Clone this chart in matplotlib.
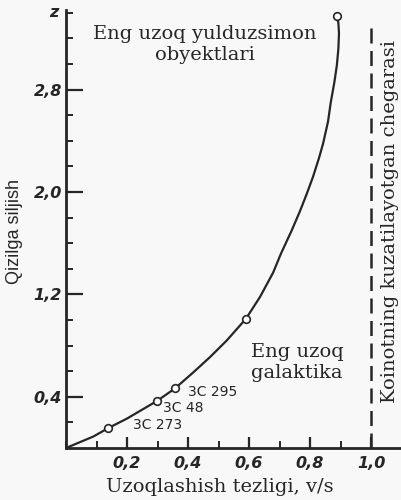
import numpy as np
import matplotlib.pyplot as plt
from matplotlib.ticker import MultipleLocator, FixedLocator

# curve: v/c vs redshift z
beta = [0.0, 0.045, 0.09, 0.138, 0.2, 0.25, 0.298, 0.357, 0.417, 0.472, 0.527,
        0.59, 0.636, 0.679, 0.705, 0.74, 0.767, 0.79, 0.81, 0.83, 0.843, 0.859,
        0.868, 0.88, 0.888, 0.893, 0.895, 0.893, 0.888]
zval = [0.0, 0.045, 0.09, 0.155, 0.23, 0.30, 0.367, 0.465, 0.59, 0.71, 0.84,
        1.01, 1.18, 1.37, 1.52, 1.70, 1.85, 1.99, 2.12, 2.27, 2.38, 2.55,
        2.70, 2.86, 2.99, 3.12, 3.24, 3.32, 3.375]

# marked objects
obj_names = ["3C 273", "3C 48", "3C 295", "", ""]
obj_beta = [0.138, 0.298, 0.357, 0.59, 0.888]
obj_z = [0.155, 0.367, 0.465, 1.01, 3.375]
# where the object names sit
name_x = [0.22, 0.318, 0.40]
name_y = [0.18, 0.31, 0.44]

xticks_major = [0.2, 0.4, 0.6, 0.8, 1.0]
xtick_labels = ["0,2", "0,4", "0,6", "0,8", "1,0"]
yticks_major = [0.4, 1.2, 2.0, 2.8]
ytick_labels = ["0,4", "1,2", "2,0", "2,8"]

ink = "#262626"
serif = "DejaVu Serif"

fig = plt.figure(figsize=(4.01, 5.0), dpi=100)
fig.patch.set_facecolor("#f8f8f8")
ax = fig.add_axes([0.1646, 0.104, 0.8367, 0.8755])
ax.set_facecolor("#f8f8f8")
ax.set_xlim(0, 1.1)
ax.set_ylim(0, 3.42)

ax.plot(beta, zval, color=ink, lw=1.6, solid_capstyle="round", solid_joinstyle="round")
ax.plot(obj_beta, obj_z, "o", ms=5.5, mfc="white", mec=ink, mew=1.2)

# limit of the observable universe
ax.axvline(1.0, ymin=0.0, ymax=0.975, color=ink, lw=1.8, dashes=(6, 3))

for spine in ["top", "right"]:
    ax.spines[spine].set_visible(False)
for spine in ["left", "bottom"]:
    ax.spines[spine].set_linewidth(2.0)
    ax.spines[spine].set_color(ink)

ax.xaxis.set_major_locator(FixedLocator(xticks_major))
ax.xaxis.set_minor_locator(MultipleLocator(0.1))
ax.set_xticklabels(xtick_labels)
ax.yaxis.set_major_locator(FixedLocator(yticks_major))
ax.yaxis.set_minor_locator(FixedLocator([0.2, 0.6, 0.8, 1.0, 1.4, 1.6, 1.8, 2.2,
                                         2.4, 2.6, 3.0, 3.2, 3.4]))
ax.set_yticklabels(ytick_labels)
ax.tick_params(which="major", direction="in", color=ink, width=1.6, labelcolor=ink)
ax.tick_params(axis="y", which="major", length=12, pad=3)
ax.tick_params(axis="x", which="major", length=8, pad=6)
ax.tick_params(which="minor", direction="in", color=ink, width=1.4, length=5)
for lab in ax.get_xticklabels() + ax.get_yticklabels():
    lab.set_fontstyle("italic")
    lab.set_fontweight("bold")
    lab.set_fontsize(11.5)
ax.text(-0.025, 3.4, "z", ha="right", va="center", fontsize=11.5,
        style="italic", fontweight="bold", color=ink)

for name, nx, ny in zip(obj_names, name_x, name_y):
    ax.text(nx, ny, name, fontsize=10, color=ink,
            ha="left", va="center", family="DejaVu Sans")

ax.text(0.456, 3.15, "Eng uzoq yulduzsimon\nobyektlari", ha="center", va="center",
        fontsize=14, family=serif, color=ink, linespacing=1.2)
ax.text(0.757, 0.67, "Eng uzoq\ngalaktika", ha="center", va="center",
        fontsize=14, family=serif, color=ink, linespacing=1.2)
ax.text(1.062, 1.77, "Koinotning kuzatilayotgan chegarasi", rotation=90,
        ha="center", va="center", fontsize=14, family=serif, color=ink)

fig.text(0.037, 0.536, "Qizilga siljish", rotation=90, ha="center", va="center",
         fontsize=13, family="Liberation Sans", color=ink)
fig.text(0.549, 0.026, "Uzoqlashish tezligi, v/s", ha="center", va="center",
         fontsize=14, family=serif, color=ink)

fig.savefig("out.png", dpi=100, facecolor=fig.get_facecolor())
